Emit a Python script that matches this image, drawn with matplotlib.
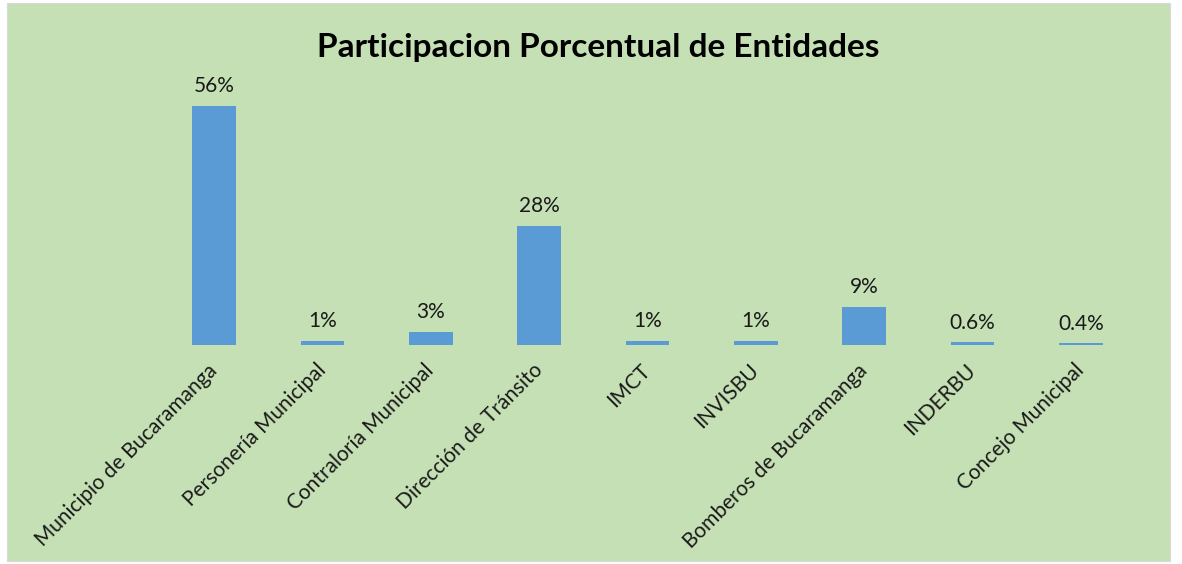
import numpy as np
import matplotlib.pyplot as plt
from matplotlib.patches import Rectangle

entidades = ["Municipio de Bucaramanga", "Personería Municipal", "Contraloría Municipal",
             "Dirección de Tránsito", "IMCT", "INVISBU", "Bomberos de Bucaramanga",
             "INDERBU", "Concejo Municipal"]
porcentajes = [56, 1, 3, 28, 1, 1, 9, 0.6, 0.4]
etiquetas = ["56%", "1%", "3%", "28%", "1%", "1%", "9%", "0.6%", "0.4%"]

W, H = 1182, 564
fig = plt.figure(figsize=(W / 100, H / 100), dpi=100)
fig.patch.set_facecolor("white")

plt.rcParams['font.family'] = ['Lato', 'DejaVu Sans']

# green chart area behind everything
bg = fig.add_axes([0, 0, 1, 1], zorder=-1)
bg.set_xlim(0, W)
bg.set_ylim(H, 0)
bg.axis("off")
bg.add_patch(Rectangle((7, 3), 1170 - 7, 561 - 3, facecolor="#C5E0B4",
                       edgecolor="#D9D9D9", linewidth=0.8))

left, right = 160, 1135
bottom, top = 345, 89
ax = fig.add_axes([left / W, 1 - bottom / H, (right - left) / W, (bottom - top) / H])
ax.set_facecolor("none")

x = np.arange(len(entidades))
ax.bar(x, porcentajes, width=0.405, color="#5B9BD5")
ax.set_xlim(-0.5, len(entidades) - 0.5)
ax.set_ylim(0, 60)

for xi, v, lab in zip(x, porcentajes, etiquetas):
    ax.annotate(lab, (xi, v), xytext=(0, 7), textcoords="offset points",
                ha="center", va="bottom", fontsize=15, color="#1a1a1a")

ax.set_xticks(x)
ax.set_xticklabels(entidades, rotation=45, ha="right", va="center",
                   rotation_mode="anchor", fontsize=15, color="#1a1a1a")
ax.tick_params(axis="x", length=0, pad=16)
ax.set_yticks([])
for s in ax.spines.values():
    s.set_visible(False)

fig.text(598 / W, 1 - 47 / H, "Participacion Porcentual de Entidades", ha="center",
         va="center", fontsize=24, fontweight="bold", color="black")

fig.savefig("out.png", dpi=100)
